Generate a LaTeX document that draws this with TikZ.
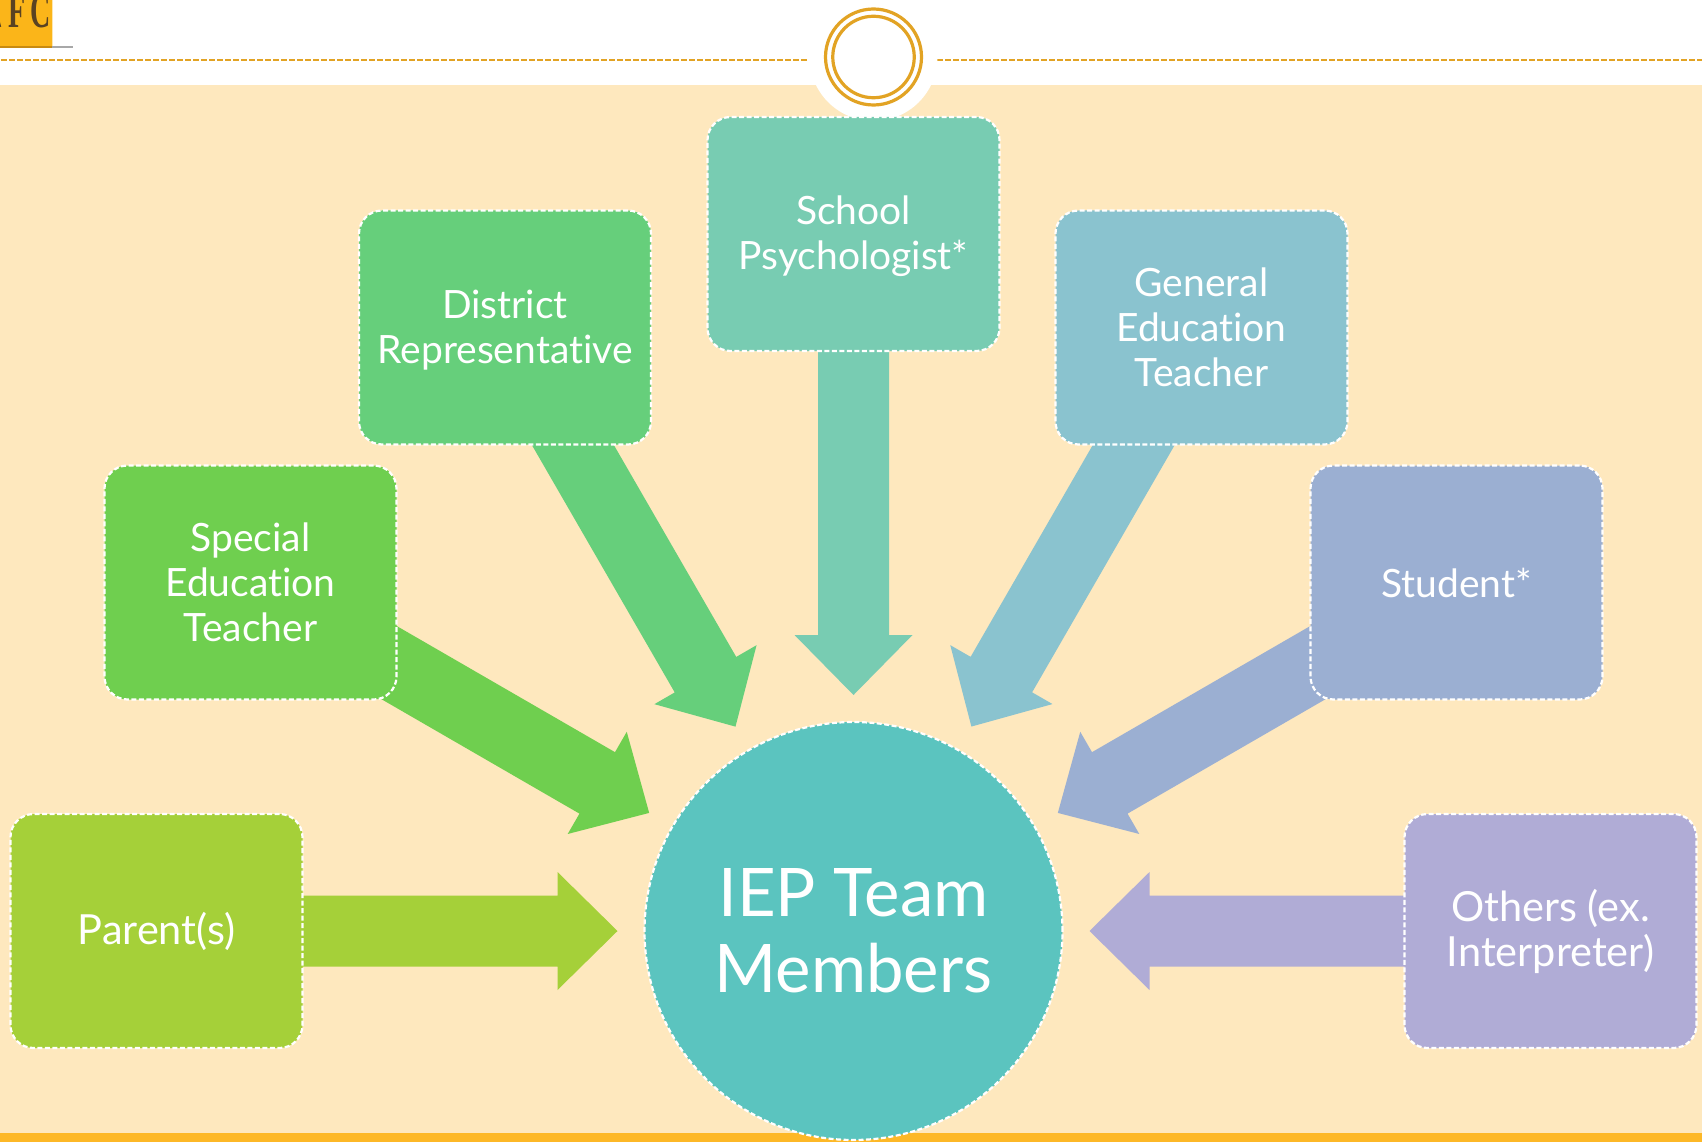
\documentclass[tikz,border=0pt]{standalone}
\usepackage{fontspec}
\setmainfont{Lato}[Ligatures=CommonOff]
\newfontfamily\logofont{Liberation Serif}
\usetikzlibrary{calc}
\definecolor{bandbg}{HTML}{FEE8BE}
\definecolor{barcol}{HTML}{FDB827}
\definecolor{ringcol}{HTML}{E2A324}
\definecolor{logocol}{HTML}{FBB519}
\definecolor{logopale}{HTML}{FCE6B0}
\definecolor{logodark}{HTML}{C88A10}
\definecolor{logotext}{HTML}{5A4222}
\definecolor{ruleg}{HTML}{A8A8A8}
\definecolor{cparent}{HTML}{A5D039}
\definecolor{cspecial}{HTML}{6FCF4F}
\definecolor{cdistrict}{HTML}{66CF7B}
\definecolor{cschool}{HTML}{78CCB2}
\definecolor{cgeneral}{HTML}{8AC3CF}
\definecolor{cstudent}{HTML}{9BAFD2}
\definecolor{cothers}{HTML}{B0ACD6}
\definecolor{ccircle}{HTML}{5BC4BF}
\tikzset{
  teambox/.style={draw=white,fill=#1,line width=2.2pt,dash pattern=on 5pt off 2.5pt,
    rounded corners=23pt,minimum width=292pt,minimum height=234pt,inner sep=0pt,outer sep=0pt,
    text=white,align=center,font=\fontsize{39}{45}\selectfont},
  widertext/.style={font=\fontsize{41.5}{45}\selectfont},
  hubnode/.style={circle,draw=white,fill=ccircle,line width=2.2pt,dash pattern=on 5pt off 2.5pt,
    minimum size=418pt,inner sep=0pt,outer sep=0pt,text=white,align=center,
    font=\fontsize{67}{76}\selectfont},
  rule/.style={ringcol,line width=2pt,dash pattern=on 6pt off 2pt},
  ring/.style={draw=ringcol,line width=3.2pt},
  logoletter/.style={anchor=base,text=logotext,font=\logofont\bfseries\fontsize{50}{50}\selectfont,inner sep=0pt,xscale=.56}
}
% block arrow from a box towards the hub
\newcommand{\spoke}[2]{%
  \coordinate (t) at ($(hub)!236pt!(#1)$);
  \coordinate (b) at ($(t)!60pt!(#1)$);
  \fill[#2] ($(#1)!35.5pt!90:(hub)$) -- ($(b)!35.5pt!-90:(#1)$) -- ($(b)!59pt!-90:(#1)$) -- (t)
    -- ($(b)!59pt!90:(#1)$) -- ($(b)!35.5pt!90:(#1)$) -- ($(#1)!35.5pt!-90:(hub)$) -- cycle;
}
\newcommand{\lowerline}{\rule{0pt}{34pt}}
\begin{document}
\begin{tikzpicture}[x=1pt,y=-1pt]
\useasboundingbox (0,0) rectangle (1702,1142);
\fill[white] (0,0) rectangle (1702,1142);
\fill[bandbg] (0,85) rectangle (1702,1142);
\fill[barcol] (0,1133) rectangle (1702,1142);
% logo
\begin{scope}
  \clip (0,0) rectangle (54,46);
  \fill[logopale] (51,0) rectangle (53,46);
  \fill[logocol] (0,0) rectangle (51.5,46);
  \fill[logotext] (0,22) -- (1.2,27) -- (0,27) -- cycle;
  \node[logoletter] (logoF) at (17.5,28) {F};
  \node[logoletter] (logoC) at (41,28) {C};
\end{scope}
\fill[logodark] (0,46.3) rectangle (52,48);
\fill[ruleg] (52,46.3) rectangle (73,48);
% header
\draw[rule] (1,60) -- (807,60);
\draw[rule] (937,60) -- (1702,60);
\fill[white] (873.5,57) circle (64);
\node[circle,ring,minimum size=96pt,inner sep=0pt] (ringouter) at (873.5,57) {};
\node[circle,ring,minimum size=81.5pt,inner sep=0pt] (ringinner) at (873.5,57) {};
% positions
\coordinate (hub) at (853.5,931);
\coordinate (pParent) at (156.5,931);
\coordinate (pSpecial) at (250.5,582.5);
\coordinate (pDistrict) at (505,327.5);
\coordinate (pSchool) at (853.5,234);
\coordinate (pGeneral) at (1201.5,327.5);
\coordinate (pStudent) at (1456.5,582.5);
\coordinate (pOthers) at (1550.5,931);
% arrows
\spoke{pParent}{cparent}
\spoke{pSpecial}{cspecial}
\spoke{pDistrict}{cdistrict}
\spoke{pSchool}{cschool}
\spoke{pGeneral}{cgeneral}
\spoke{pStudent}{cstudent}
\spoke{pOthers}{cothers}
% boxes
\node[teambox=cparent,widertext] (parent) at (pParent) {Parent(s)};
\node[teambox=cspecial] (special) at (pSpecial) {Special\\Education\\Teacher};
\node[teambox=cdistrict] (district) at (pDistrict) {\lowerline District\\Representative};
\node[teambox=cschool] (school) at (pSchool) {\lowerline School\\Psychologist*};
\node[teambox=cgeneral] (general) at (pGeneral) {General\\Education\\Teacher};
\node[teambox=cstudent] (student) at (pStudent) {Student*};
\node[teambox=cothers,widertext] (others) at (pOthers) {Others (ex.\\Interpreter)};
\node[hubnode] (hubc) at (hub) {IEP Team\\Members};
\end{tikzpicture}
\end{document}
